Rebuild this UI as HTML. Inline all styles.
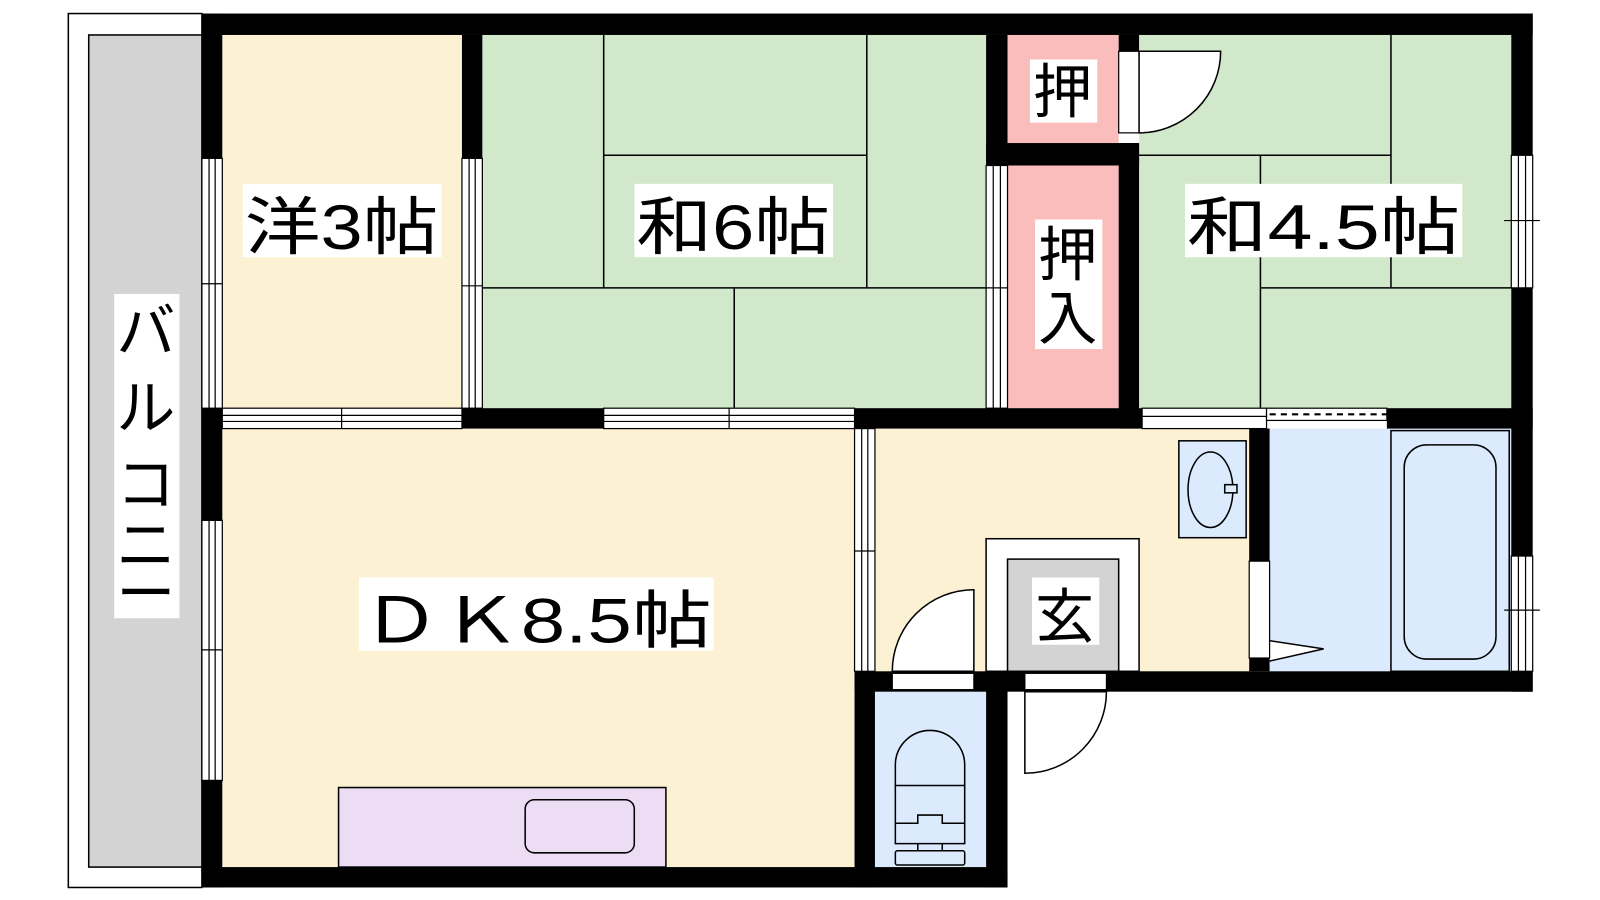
<!DOCTYPE html>
<html><head><meta charset="utf-8"><style>
html,body{margin:0;padding:0;background:#fff;width:1600px;height:900px;overflow:hidden}
svg text{font-family:"Liberation Sans","Noto Sans CJK JP",sans-serif}
</style></head><body>
<svg width="1600" height="900" viewBox="0 0 1569 882" xmlns="http://www.w3.org/2000/svg">
<g stroke="#000" stroke-width="1.5">
<!-- balcony -->
<rect x="67" y="13" width="131" height="857" fill="#fff"/>
<rect x="87" y="34" width="111" height="816" fill="#d3d3d3"/>
<!-- rooms -->
<rect x="218" y="34" width="235" height="366" fill="#fdf1d3" stroke="none"/>
<rect x="473" y="34" width="494" height="366" fill="#d2e8cb" stroke="none"/>
<rect x="988" y="34" width="109" height="106" fill="#fbbcbc" stroke="none"/>
<rect x="988" y="162" width="109" height="238" fill="#fbbcbc" stroke="none"/>
<rect x="1117" y="34" width="365" height="366" fill="#d2e8cb" stroke="none"/>
<rect x="218" y="420" width="620" height="430" fill="#fdf1d3" stroke="none"/>
<rect x="858" y="420" width="367" height="238" fill="#fdf1d3" stroke="none"/>
<rect x="1245" y="420" width="237" height="238" fill="#dbeafd" stroke="none"/>
<rect x="858" y="678" width="109" height="172" fill="#dbeafd" stroke="none"/>
</g>
<g stroke="#000" stroke-width="1.5" fill="none">
<!-- tatami 6 -->
<line x1="592" y1="34" x2="592" y2="282"/><line x1="850" y1="34" x2="850" y2="282"/>
<line x1="592" y1="152" x2="850" y2="152"/><line x1="473" y1="282" x2="967" y2="282"/>
<line x1="720" y1="282" x2="720" y2="400"/>
<!-- tatami 4.5 -->
<line x1="1364" y1="34" x2="1364" y2="282"/><line x1="1236" y1="152" x2="1236" y2="400"/>
<line x1="1117" y1="152" x2="1364" y2="152"/><line x1="1236" y1="282" x2="1482" y2="282"/>
<!-- kitchen -->
<rect x="332" y="772" width="321" height="78" fill="#ecdcf4"/>
<rect x="515" y="784" width="107" height="52" rx="9"/>
<!-- genkan -->
<rect x="967" y="528" width="150" height="130" fill="#fff"/>
<rect x="988" y="548" width="109" height="110" fill="#d3d3d3"/>
<!-- washbasin -->
<rect x="1156" y="432" width="66" height="95" fill="#dbeafd"/>
<ellipse cx="1187" cy="480" rx="22" ry="37"/>
<rect x="1201" y="475" width="12" height="8" fill="#dbeafd"/>
<!-- tub -->
<rect x="1364" y="422" width="116" height="236"/>
<rect x="1377" y="436" width="90" height="210" rx="22"/>
<!-- toilet -->
<path d="M878 770 v-20 a34 34 0 0 1 68 0 v20 z" />
<path d="M878 770 v57 h68 v-57"/>
<path d="M878 807 h22 v-8 h24 v8 h22"/>
<line x1="900" y1="827" x2="900" y2="834"/><line x1="924" y1="827" x2="924" y2="834"/>
<rect x="878" y="834" width="68" height="14" rx="2"/>
<!-- bath door triangle -->
<path d="M1245 628 L1298 636 L1245 648" fill="#fff"/>
</g>
<!-- walls -->
<g fill="#000">
<rect x="198" y="13" width="1305" height="21"/>
<rect x="198" y="13" width="20" height="142"/>
<rect x="198" y="400" width="20" height="110"/>
<rect x="198" y="765" width="20" height="105"/>
<rect x="198" y="850" width="790" height="20"/>
<rect x="453" y="34" width="20" height="121"/>
<rect x="453" y="400" width="139" height="20"/>
<rect x="838" y="400" width="282" height="20"/>
<rect x="1360" y="400" width="143" height="20"/>
<rect x="967" y="34" width="21" height="126"/>
<rect x="967" y="140" width="150" height="22"/>
<rect x="1097" y="140" width="20" height="280"/>
<rect x="1097" y="34" width="20" height="16"/>
<rect x="1482" y="13" width="21" height="139"/>
<rect x="1482" y="282" width="21" height="263"/>
<rect x="1482" y="658" width="21" height="20"/>
<rect x="838" y="658" width="665" height="20"/>
<rect x="838" y="658" width="20" height="212"/>
<rect x="967" y="658" width="21" height="212"/>
<rect x="1225" y="420" width="20" height="130"/>
<rect x="1225" y="645" width="20" height="13"/>
</g>
<!-- windows / sliding -->
<g fill="#fff" stroke="#000" stroke-width="1.2">
<rect x="198" y="155" width="20" height="245"/><line x1="205" y1="155" x2="205" y2="400"/><line x1="211" y1="155" x2="211" y2="400"/><line x1="198" y1="278" x2="218" y2="278"/>
<rect x="198" y="510" width="20" height="255"/><line x1="205" y1="510" x2="205" y2="765"/><line x1="211" y1="510" x2="211" y2="765"/><line x1="198" y1="637" x2="218" y2="637"/>
<rect x="453" y="155" width="20" height="245"/><line x1="460" y1="155" x2="460" y2="400"/><line x1="466" y1="155" x2="466" y2="400"/><line x1="453" y1="280" x2="473" y2="280"/>
<rect x="967" y="162" width="21" height="238"/><line x1="974" y1="162" x2="974" y2="400"/><line x1="981" y1="162" x2="981" y2="400"/><line x1="967" y1="282" x2="988" y2="282"/>
<rect x="218" y="400" width="235" height="20"/><line x1="218" y1="407" x2="453" y2="407"/><line x1="218" y1="413" x2="453" y2="413"/><line x1="335" y1="400" x2="335" y2="420"/>
<rect x="592" y="400" width="246" height="20"/><line x1="592" y1="407" x2="838" y2="407"/><line x1="592" y1="413" x2="838" y2="413"/><line x1="715" y1="400" x2="715" y2="420"/>
<rect x="838" y="420" width="20" height="238"/><line x1="845" y1="420" x2="845" y2="658"/><line x1="851" y1="420" x2="851" y2="658"/><line x1="838" y1="540" x2="858" y2="540"/>
<rect x="1120" y="400" width="122" height="20"/><line x1="1120" y1="408" x2="1242" y2="408"/>
<rect x="1242" y="400" width="118" height="12"/>
<rect x="1482" y="152" width="21" height="130"/><line x1="1489" y1="152" x2="1489" y2="282"/><line x1="1496" y1="152" x2="1496" y2="282"/><line x1="1475" y1="216" x2="1510" y2="216"/>
<rect x="1482" y="545" width="21" height="113"/><line x1="1489" y1="545" x2="1489" y2="658"/><line x1="1496" y1="545" x2="1496" y2="658"/><line x1="1475" y1="598" x2="1510" y2="598"/>
<rect x="1225" y="550" width="20" height="95"/>
<!-- door openings -->
<rect x="875" y="660" width="80" height="16"/>
<rect x="1005" y="660" width="80" height="16"/>
<rect x="1097" y="50" width="20" height="80"/>
</g>
<line x1="1245" y1="406" x2="1360" y2="406" stroke="#000" stroke-width="2" stroke-dasharray="6,5"/>
<!-- door arcs -->
<g fill="#fff" stroke="#000" stroke-width="1.5">
<path d="M955 658 V578 A80 80 0 0 0 875 658 Z"/>
<path d="M1005 678 V758 A80 80 0 0 0 1085 678 Z"/>
<path d="M1117 130 V50 H1197 A80 80 0 0 1 1117 130 Z"/>
</g>
<!-- labels -->
<g fill="#fff">
<rect x="238" y="180" width="195" height="72"/>
<rect x="622" y="180" width="195" height="72"/>
<rect x="1162" y="180" width="272" height="72"/>
<rect x="1010" y="58" width="66" height="62"/>
<rect x="1015" y="215" width="66" height="127"/>
<rect x="352" y="566" width="348" height="72"/>
<rect x="1012" y="566" width="66" height="66"/>
<rect x="112" y="288" width="64" height="318"/>
</g>
<g fill="#000" font-size="62">
<text x="240" y="244" textLength="190" lengthAdjust="spacingAndGlyphs">洋3帖</text>
<text x="624" y="244" textLength="190" lengthAdjust="spacingAndGlyphs">和6帖</text>
<text x="1164" y="244" textLength="268" lengthAdjust="spacingAndGlyphs">和4.5帖</text>
<text x="354" y="630" textLength="344" lengthAdjust="spacingAndGlyphs">ＤＫ8.5帖</text>
<text x="1013" y="110" font-size="58">押</text>
<text x="1018" y="270" font-size="58">押</text>
<text x="1018" y="332" font-size="58">入</text>
<text x="1015" y="625" font-size="58">玄</text>
<text x="114" y="345" font-size="58">バ</text>
<text x="114" y="420" font-size="58">ル</text>
<text x="114" y="495" font-size="58">コ</text>
<text x="114" y="555" font-size="58">ニ</text>
<text x="114" y="602" font-size="58">ー</text>
</g>
</svg>
</body></html>
